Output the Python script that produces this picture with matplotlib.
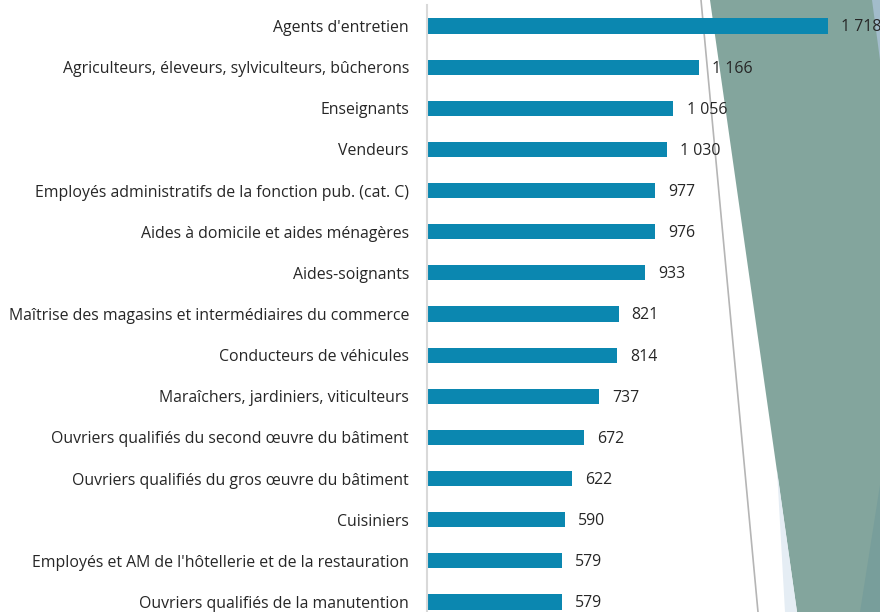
import matplotlib
matplotlib.use("Agg")
import matplotlib.pyplot as plt
from matplotlib.patches import Polygon
from matplotlib.lines import Line2D

categories = [
    "Agents d'entretien",
    "Agriculteurs, éleveurs, sylviculteurs, bûcherons",
    "Enseignants",
    "Vendeurs",
    "Employés administratifs de la fonction pub. (cat. C)",
    "Aides à domicile et aides ménagères",
    "Aides-soignants",
    "Maîtrise des magasins et intermédiaires du commerce",
    "Conducteurs de véhicules",
    "Maraîchers, jardiniers, viticulteurs",
    "Ouvriers qualifiés du second œuvre du bâtiment",
    "Ouvriers qualifiés du gros œuvre du bâtiment",
    "Cuisiniers",
    "Employés et AM de l'hôtellerie et de la restauration",
    "Ouvriers qualifiés de la manutention",
]
values = [1718, 1166, 1056, 1030, 977, 976, 933, 821, 814, 737, 672, 622, 590, 579, 579]

W, H = 880, 612
fig = plt.figure(figsize=(W / 100, H / 100), dpi=100)
fig.patch.set_facecolor("white")

def P(x, y):
    return (x / W, 1 - y / H)

# background decoration (slide shapes), drawn behind the axes
deco = [
    ([P(710, 0), P(880, 0), P(880, 612), P(797, 612)], "#83a59d"),
    ([P(777, 470), P(797, 612), P(785, 612)], "#e5edf4"),
    ([P(880, 485), P(880, 612), P(860, 612)], "#789e9b"),
    ([P(872, 0), P(880, 0), P(880, 60)], "#a2bccb"),
]
for pts, col in deco:
    fig.patches.append(Polygon(pts, closed=True, transform=fig.transFigure,
                               facecolor=col, edgecolor="none", zorder=-5))
fig.lines.append(Line2D([701 / W, 758 / W], [1, 0], transform=fig.transFigure,
                        color="#b5b5b5", lw=1.2, zorder=-4))

ax = fig.add_axes([427 / W, 0, 1 - 427 / W, (H - 5) / H])
ax.set_zorder(5)
ax.set_facecolor("none")
n = len(categories)
ypos = list(range(n))
ax.barh(ypos, values, height=0.37, color="#0b87b0", zorder=2)

spacing = (602 - 26) / 14
ax.set_ylim((612 - 26) / spacing, (5 - 26) / spacing)
ax.set_xlim(0, (W - 427) / 0.2334)

for s in ["top", "right", "bottom"]:
    ax.spines[s].set_visible(False)
ax.spines["left"].set_color("#d9d9d9")
ax.spines["left"].set_linewidth(1.5)
ax.set_xticks([])
ax.set_yticks(ypos)
ax.set_yticklabels(categories, fontsize=11.4, color="#262626", family="Open Sans")
ax.tick_params(axis="y", length=0, pad=13)

for y, v in zip(ypos, values):
    lab = f"{v:,}".replace(",", " ")
    ax.annotate(lab, (v, y), xytext=(9.4, -1), textcoords="offset points",
                ha="left", va="center", fontsize=11.4, color="#262626",
                family="Open Sans", clip_on=False, annotation_clip=False)

fig.savefig("out.png", dpi=100)
